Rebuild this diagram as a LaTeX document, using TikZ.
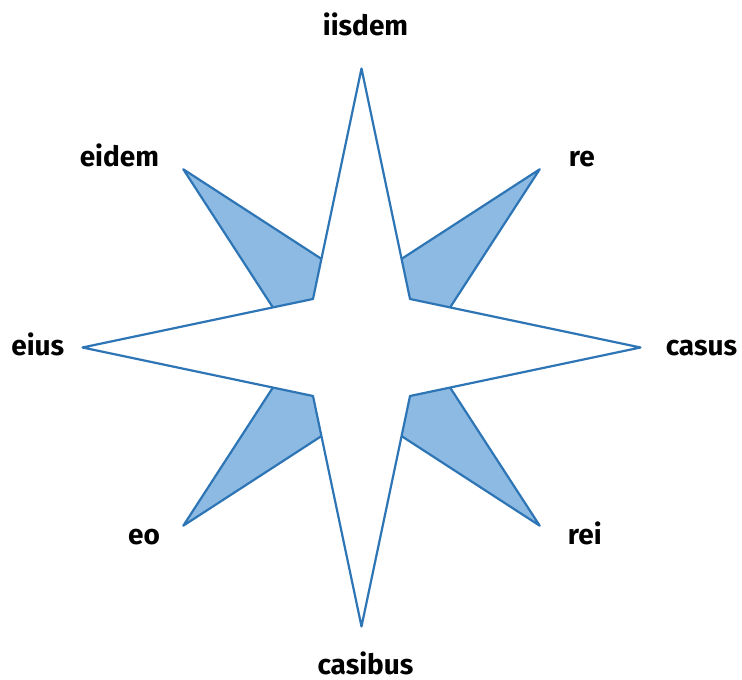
\documentclass[tikz,border=0pt]{standalone}
\usepackage{fontspec}
\setmainfont{Fira Sans}
\usetikzlibrary{positioning}
\definecolor{starline}{RGB}{46,117,182}
\definecolor{starfill}{RGB}{141,186,226}
\tikzset{
  x=0.75pt, y=0.75pt, % one unit is one pixel of the reference
  kite/.style={draw=starline, fill=starfill, line width=1.65pt, line join=round}, % the four diagonal points
  rose/.style={draw=starline, fill=white, line width=1.65pt, line join=round}, % the main four-pointed star
  word/.style={font=\fontsize{21}{25}\selectfont\bfseries, inner sep=0pt},
}

\begin{document}
\begin{tikzpicture}
  \useasboundingbox (0,0) rectangle (742,680);
  \begin{scope}[shift={(361.5,332.5)}]
    % outer and inner points of the main star
    \coordinate (n) at (90:279);
    \coordinate (e) at (0:279);
    \coordinate (s) at (270:279);
    \coordinate (w) at (180:279);
    \coordinate (nei) at (45:68.6);
    \coordinate (nwi) at (135:68.6);
    \coordinate (swi) at (225:68.6);
    \coordinate (sei) at (315:68.6);
    % diagonal points
    \coordinate (ne) at (45:252);
    \coordinate (nw) at (135:252);
    \coordinate (sw) at (225:252);
    \coordinate (se) at (315:252);

    \foreach \a in {45,135,225,315}
      \filldraw[kite] (\a:252) -- ({\a+20.5}:97.7) -- (0,0) -- ({\a-20.5}:97.7) -- cycle;

    \filldraw[rose] (n) -- (nei) -- (e) -- (sei) -- (s) -- (swi) -- (w) -- (nwi) -- cycle;

    \node[word, anchor=base] (ln) at ([shift={(4,33)}]n) {iisdem};
    \node[word, anchor=base] (ls) at ([shift={(4,-48)}]s) {casibus};
    \node[word, anchor=base east] (lw) at ([shift={(-18,-8)}]w) {eius};
    \node[word, anchor=base west] (le) at ([shift={(25,-8)}]e) {casus};
    \node[word, anchor=base west] (lne) at ([shift={(29,3)}]ne) {re};
    \node[word, anchor=base west] (lse) at ([shift={(28,-19)}]se) {rei};
    \node[word, anchor=base east] (lsw) at ([shift={(-23,-19)}]sw) {eo};
    \node[word, anchor=base east] (lnw) at ([shift={(-24,3)}]nw) {eidem};
  \end{scope}
\end{tikzpicture}
\end{document}
